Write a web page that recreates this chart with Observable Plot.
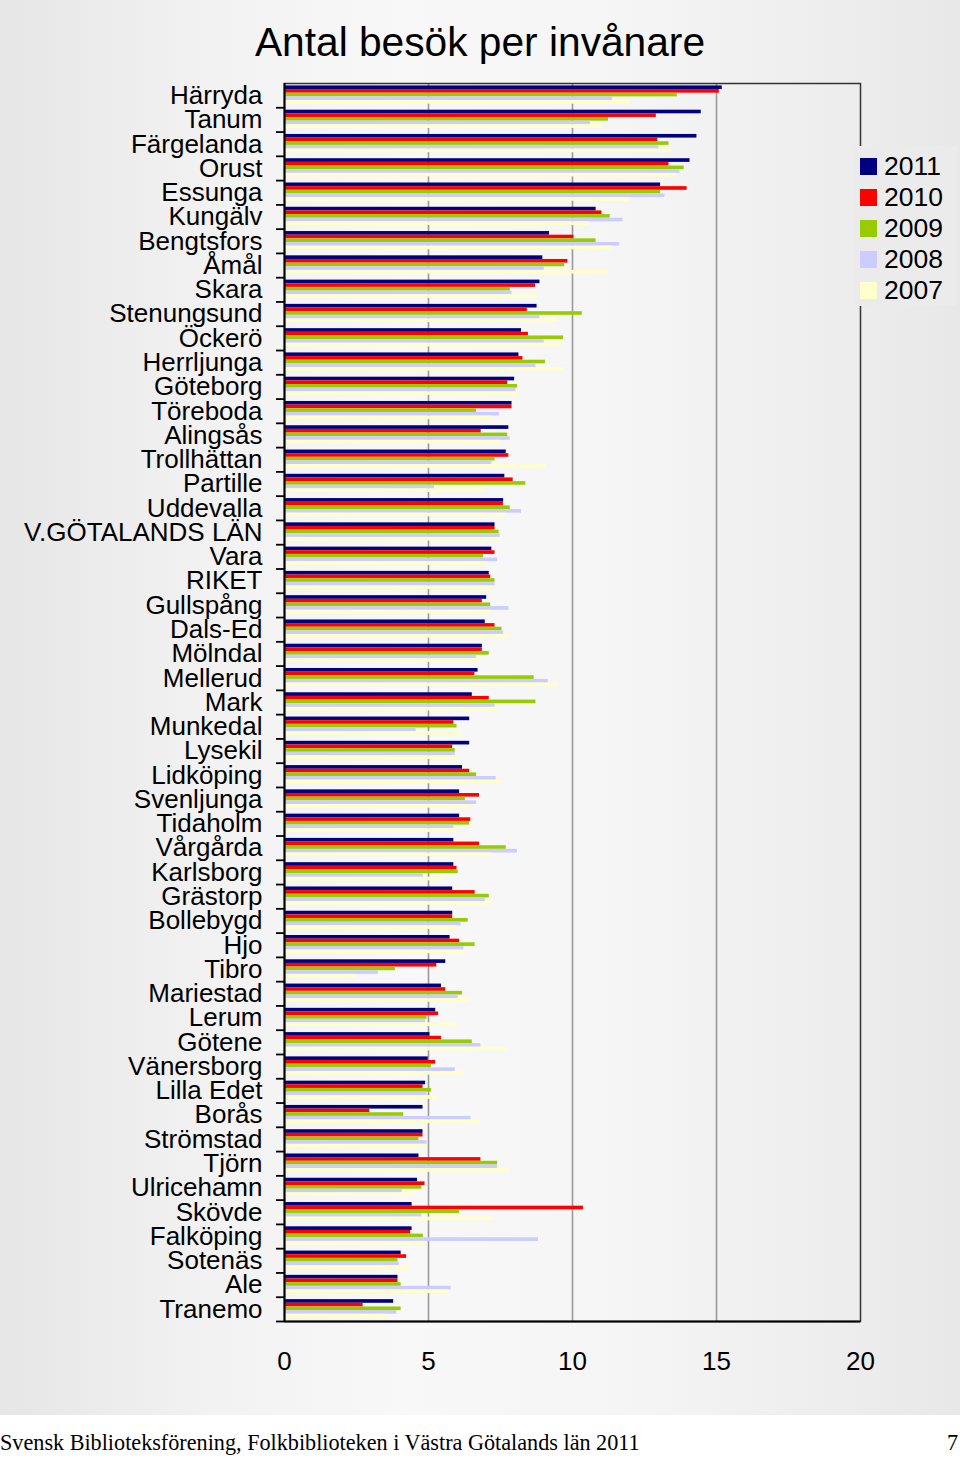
<!DOCTYPE html>
<html>
<head>
<meta charset="utf-8">
<script src="https://cdn.jsdelivr.net/npm/d3@7"></script>
<script src="https://cdn.jsdelivr.net/npm/@observablehq/plot@0.6"></script>
<style>
  html, body { margin: 0; padding: 0; background: #fff; }
  body { width: 960px; height: 1460px; overflow: hidden; font-family: "Liberation Sans", Arial, sans-serif; }
  #wrap { position: relative; width: 960px; height: 1415px;
    background: linear-gradient(to right, #e6e6e6 0%, #f2f2f2 22%, #f8f8f8 42%, #f5f5f5 65%, #eeeeee 85%, #e8e8e8 100%); }
  #title { position: absolute; top: 22px; left: 0; width: 960px; text-align: center;
    font-size: 40.7px; line-height: 40px; color: #000; }
  #chart { position: absolute; top: 0; left: 0; }
  #legend { position: absolute; left: 855px; top: 146px; width: 102px; height: 160px; background: #ebebeb; }
  .li { position: absolute; left: 5px; height: 31px; display: flex; align-items: center; font-size: 26.5px; color: #000; }
  .sw { width: 17px; height: 17px; margin-right: 7px; }
  #footer { position: absolute; top: 1415px; left: 0; width: 960px; height: 45px; background: #fff;
    font-family: "Liberation Serif", "DejaVu Serif", serif; font-size: 22.2px; color: #000; }
  #footer .l { position: absolute; left: 0; top: 15px; }
  #footer .r { position: absolute; right: 2px; top: 15px; }
</style>
</head>
<body>
<div id="wrap">
  <div id="chart"></div>
  <div id="title">Antal besök per invånare</div>
  <div id="legend"></div>
</div>
<div id="footer"><span class="l">Svensk Biblioteksförening, Folkbiblioteken i Västra Götalands län 2011</span><span class="r">7</span></div>
<script>
const categories = ["Härryda","Tanum","Färgelanda","Orust","Essunga","Kungälv","Bengtsfors","Åmål","Skara","Stenungsund","Öckerö","Herrljunga","Göteborg","Töreboda","Alingsås","Trollhättan","Partille","Uddevalla","V.GÖTALANDS LÄN","Vara","RIKET","Gullspång","Dals-Ed","Mölndal","Mellerud","Mark","Munkedal","Lysekil","Lidköping","Svenljunga","Tidaholm","Vårgårda","Karlsborg","Grästorp","Bollebygd","Hjo","Tibro","Mariestad","Lerum","Götene","Vänersborg","Lilla Edet","Borås","Strömstad","Tjörn","Ulricehamn","Skövde","Falköping","Sotenäs","Ale","Tranemo"];

const years = ["2011","2010","2009","2008","2007"];
const yearColors = ["#000080","#ff0000","#99cc00","#ccccff","#ffffcc"];

const v2011 = [15.2,14.47,14.32,14.08,13.06,10.82,9.2,8.97,8.87,8.77,8.23,8.14,7.99,7.9,7.79,7.7,7.65,7.61,7.31,7.2,7.11,7.02,6.97,6.87,6.72,6.52,6.43,6.43,6.18,6.08,6.08,5.88,5.88,5.84,5.84,5.75,5.6,5.45,5.25,5.05,4.99,4.9,4.81,4.81,4.67,4.62,4.43,4.43,4.05,3.94,3.79];
const v2010 = [15.1,12.91,12.96,13.35,13.98,11.02,10.05,9.84,8.72,8.43,8.47,8.28,7.75,7.9,6.83,7.79,7.94,7.6,7.31,7.31,7.16,6.87,7.31,6.87,6.61,7.11,5.88,5.84,6.43,6.77,6.47,6.77,5.99,6.62,5.84,6.08,5.29,5.6,5.35,5.45,5.25,4.81,2.96,4.81,6.82,4.88,10.38,4.38,4.24,3.94,2.73];
const v2009 = [13.64,11.25,13.35,13.88,13.06,11.31,10.82,9.73,7.84,10.34,9.69,9.06,8.09,6.67,7.75,7.31,8.38,7.84,7.45,6.91,7.31,7.16,7.55,7.11,8.67,8.73,5.99,5.93,6.67,6.28,6.43,7.7,6.03,7.11,6.38,6.62,3.85,6.18,4.95,6.52,5.1,5.1,4.14,4.67,7.4,4.77,6.08,4.82,3.94,4.05,4.05];
const v2008 = [11.39,10.62,13.0,13.73,13.21,11.75,11.64,9.02,7.9,8.87,9.02,8.73,8.03,7.46,7.84,7.2,5.21,8.23,7.49,7.4,7.31,7.79,7.61,6.67,9.16,7.31,4.57,5.93,7.35,6.67,5.88,8.09,4.82,6.97,6.13,6.23,3.26,6.03,4.9,6.82,5.93,4.95,6.47,4.95,7.4,4.09,4.77,8.82,3.99,5.79,3.9];
const v2007 = [12.0,11.0,13.46,13.6,12.0,10.6,11.4,11.25,8.8,9.5,9.6,9.7,8.1,7.2,7.5,9.06,7.0,7.7,7.5,7.0,7.3,7.2,7.84,6.8,9.5,7.4,6.16,6.0,7.55,6.5,6.0,7.2,5.5,7.2,6.0,6.3,2.5,6.43,6.05,7.73,6.22,5.3,6.8,4.9,7.85,4.5,7.27,4.9,4.37,5.7,3.6];

const xTicks = [0,5,10,15,20];

const series = [v2011, v2010, v2009, v2008, v2007];
const rows = categories.flatMap((c, i) => years.map((y, j) => ({category: c, year: y, value: series[j][i]})));

const W = 960, H = 1415, mTop = 83, mBottom = 94, mLeft = 284, mRight = 100;
const bw = (H - mTop - mBottom) / categories.length;
const padTop = 2.4, th = 3.65;

const barMarks = years.map((yr, j) => Plot.barX(rows.filter(r => r.year === yr), {
  x: "value", y: "category", fill: "year",
  insetTop: padTop + j * th,
  insetBottom: bw - padTop - (j + 1) * th
}));

const chart = Plot.plot({
  width: W, height: H,
  marginTop: mTop, marginBottom: mBottom, marginLeft: mLeft, marginRight: mRight,
  style: {background: "transparent", fontFamily: "Liberation Sans, Arial, sans-serif", fontSize: "26px", color: "#000"},
  x: {domain: [0, 20]},
  y: {domain: categories, padding: 0, round: false},
  color: {domain: years, range: yearColors},
  marks: [
    Plot.ruleX([5, 10, 15], {stroke: "#9a9a9a", strokeWidth: 1.6}),
    ...barMarks,
    Plot.frame({stroke: "#333", strokeWidth: 1.5}),
    Plot.ruleX([0], {stroke: "#000", strokeWidth: 2}),
    Plot.ruleY([categories[categories.length - 1]], {dy: bw / 2, stroke: "#000", strokeWidth: 2}),
    Plot.axisY({tickSize: 8, tickFormat: () => "", dy: bw / 2, label: null, stroke: "#000", strokeWidth: 1.8}),
    Plot.axisY({tickSize: 0, tickPadding: 22, label: null}),
    Plot.axisX({ticks: xTicks, tickSize: 0, tickPadding: 30, label: null, tickFormat: d => String(d)})
  ]
});
document.getElementById("chart").appendChild(chart);

const legend = document.getElementById("legend");
years.forEach((y, j) => {
  const it = document.createElement("div");
  it.className = "li";
  it.style.top = (4.5 + j * 31) + "px";
  const sw = document.createElement("div");
  sw.className = "sw";
  sw.style.background = yearColors[j];
  const t = document.createElement("span");
  t.textContent = y;
  it.appendChild(sw); it.appendChild(t);
  legend.appendChild(it);
});
</script>
</body>
</html>
